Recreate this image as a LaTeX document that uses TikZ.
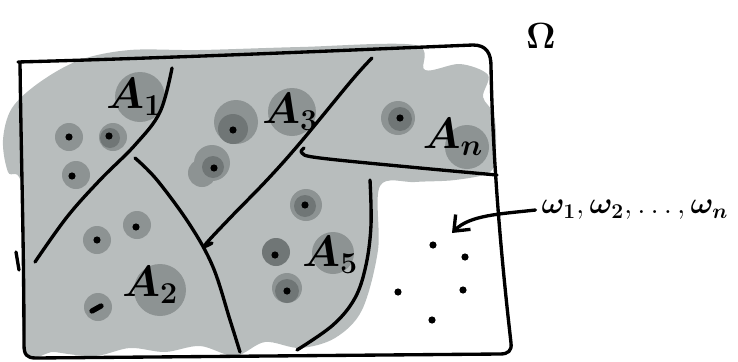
\documentclass[tikz,border=0pt]{standalone}
\usepackage{amsmath,amssymb}
\usepackage{bm}
\usepackage{xcolor}
\usepackage{tikz}
\usetikzlibrary{arrows.meta,calc,positioning}

\definecolor{blobgray}{RGB}{184,189,189}
\definecolor{diskgray}{RGB}{141,147,147}
\definecolor{coregray}{RGB}{112,118,118}

\begin{document}
\begin{tikzpicture}[x=0.02cm,y=-0.02cm,>={Straight Barb[length=2.6mm,width=4.2mm]},
  blob/.style={fill=blobgray},
  disk/.style={fill=diskgray},
  core/.style={fill=coregray},
  sepline/.style={line width=1.9pt,line cap=round,line join=round},
  setlbl/.style={font=\fontsize{23}{25}\selectfont}]
  \useasboundingbox (0,0) rectangle (738,362);
  % gray cloud of the sets
  \fill[blob] plot[smooth cycle,tension=0.55] coordinates
    {(3,140) (12,108) (40,82) (80,60) (130,50) (200,50) (300,47) (415,45)
     (425,70) (460,64) (488,75) (483,97) (494,115) (496,150) (490,172)
     (455,180) (415,182) (380,186) (378,250) (362,310) (335,338) (300,348)
     (265,342) (235,356) (200,346) (165,352) (130,348) (95,356) (55,352)
     (24,345) (22,190) (8,172)};
  % disks around the samples
  \fill[disk] (140,97) circle (25);
  \fill[disk] (292,112) circle (24);
  \fill[disk] (160,290) circle (26);
  \fill[disk] (333,253) circle (21);
  \fill[disk] (467,147) circle (22);
  \fill[disk] (69,137) circle (14);
  \fill[disk] (113,137) circle (14);
  \fill[core] (110,138) circle (10);
  \fill[disk] (76,175) circle (14);
  \fill[disk] (236,122) circle (22);
  \fill[core] (233,129) circle (15);
  \fill[disk] (212,163) circle (18);
  \fill[disk] (202,173) circle (14);
  \fill[core] (213,167) circle (11);
  \fill[disk] (306,205) circle (16);
  \fill[core] (305,206) circle (11);
  \fill[disk] (97,240) circle (14);
  \fill[disk] (137,225) circle (14);
  \fill[disk] (98,307) circle (14);
  \fill[core] (276,252) circle (14);
  \fill[disk] (287,288) circle (15);
  \fill[core] (287,291) circle (12);
  \fill[disk] (398,118) circle (17);
  \fill[core] (400,119) circle (12);
  % samples
  \foreach \p in {(69,137),(109,136),(72,176),(233,130),(214,168),(305,205),
                  (97,240),(136,227),(275,255),(287,291),(400,118),
                  (433,245),(465,257),(398,292),(463,290),(432,320)}
    \fill \p circle (3.6);
  \draw[line width=3pt,line cap=round] (92,311) -- (101,306);
  % frame of Omega
  \draw[sepline] (18,62) .. controls (200,57) and (350,50) .. (473,45)
    .. controls (487,45) and (491,54) .. (491,66)
    .. controls (493,180) and (505,290) .. (511,343)
    .. controls (512,351) and (508,354) .. (500,354)
    -- (36,358) .. controls (27,358) and (24,355) .. (24,345)
    .. controls (24,250) and (21,150) .. (20,62);
  \draw[sepline] (16,252) -- (19,270);
  % borders between the sets
  \draw[sepline] plot[smooth,tension=0.6] coordinates
    {(172,68) (160,112) (135,145) (100,180) (67,217) (35,262)};
  \draw[sepline] plot[smooth,tension=0.6] coordinates
    {(135,158) (157,180) (190,225) (213,267) (230,320) (240,352)};
  \draw[sepline] plot[smooth,tension=0.6] coordinates
    {(372,58) (352,80) (300,143) (267,180) (230,218) (205,245) (212,243)};
  \draw[sepline] plot[smooth,tension=0.6] coordinates
    {(304,148) (302,153) (320,158) (420,168) (497,175)};
  \draw[sepline] plot[smooth,tension=0.6] coordinates
    {(370,180) (371,225) (366,265) (355,298) (333,325) (297,350)};
  % labels
  \node[setlbl] (a1) at (134,97) {$\bm{A_1}$};
  \node[setlbl] (a3) at (290,112) {$\bm{A_3}$};
  \node[setlbl] (a2) at (150,285) {$\bm{A_2}$};
  \node[setlbl] (a5) at (330,255) {$\bm{A_5}$};
  \node[setlbl] (an) at (453,137) {$\bm{A_n}$};
  \node[font=\fontsize{22}{24}\selectfont] (omega) at (541,36) {$\bm{\Omega}$};
  \node[font=\fontsize{18}{20}\selectfont] (samples) at (635,210)
    {$\bm{\omega_1},\bm{\omega_2},\ldots,\bm{\omega_n}$};
  \coordinate (tip) at (452,233);
  \draw[sepline,->] (samples.west) .. controls (500,214) and (470,215) .. (tip);
\end{tikzpicture}
\end{document}
